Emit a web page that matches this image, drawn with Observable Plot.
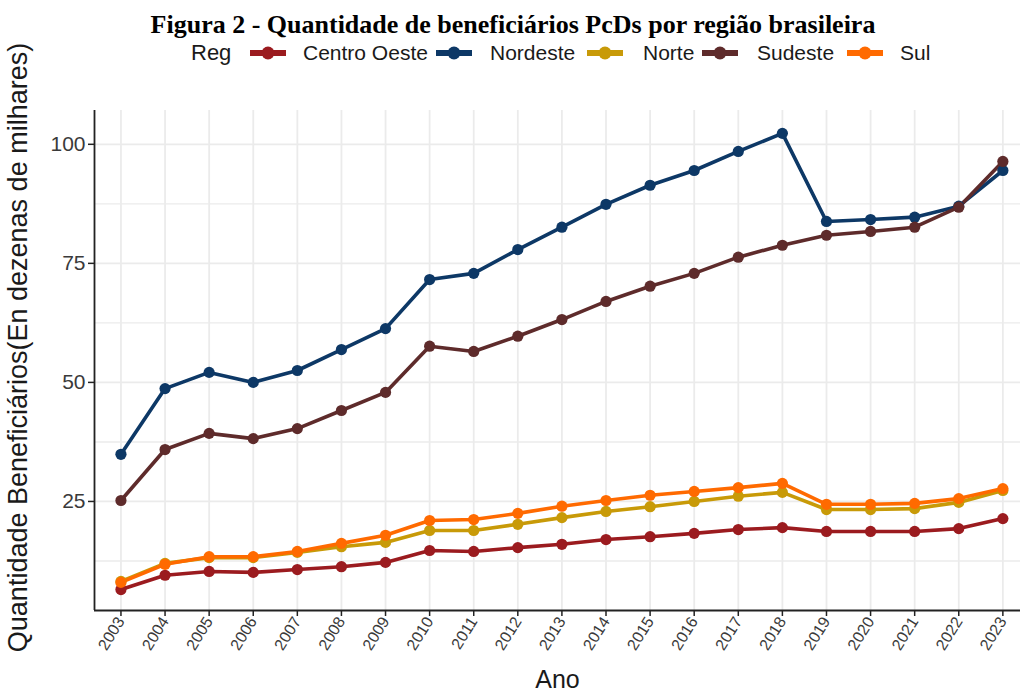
<!DOCTYPE html>
<html>
<head>
<meta charset="utf-8">
<script src="https://cdn.jsdelivr.net/npm/d3@7"></script>
<script src="https://cdn.jsdelivr.net/npm/@observablehq/plot@0.6"></script>
<style>
  body { margin: 0; background: #fff; width: 1020px; height: 695px; overflow: hidden; }
  #title { height: 40px; box-sizing: border-box; padding-top: 12px; text-align: center; font-family: "Liberation Serif", "Times New Roman", serif; font-weight: bold; font-size: 26px; line-height: 26px; color: #000; padding-left: 6px; }
  #legend { position: relative; height: 26px; font-family: "Liberation Sans", Arial, sans-serif; font-size: 21px; line-height: 26px; color: #1a1a1a; }
  #legend > * { position: absolute; top: 0; }
  #legend svg { top: 6px; }
  #chart svg { overflow: visible; display: block; }
</style>
</head>
<body>
<div id="title">Figura 2 - Quantidade de beneficiários PcDs por região brasileira</div>
<div id="legend"></div>
<div id="chart"></div>
<script>
const years = [2003,2004,2005,2006,2007,2008,2009,2010,2011,2012,2013,2014,2015,2016,2017,2018,2019,2020,2021,2022,2023];
const regions = ["Centro Oeste","Nordeste","Norte","Sudeste","Sul"];
const colors = ["#9b1b1f","#0d3866","#c89a08","#5e2b2b","#ff6a00"];
const centroOeste = [6.5,9.5,10.3,10.1,10.7,11.3,12.2,14.7,14.5,15.3,16.0,17.0,17.6,18.3,19.1,19.5,18.7,18.7,18.7,19.3,21.4];
const nordeste = [34.9,48.7,52.1,50.0,52.5,56.9,61.3,71.6,72.9,77.9,82.6,87.4,91.4,94.5,98.5,102.3,83.8,84.2,84.7,87.0,94.5];
const norte = [8.2,12.0,13.2,13.2,14.3,15.5,16.4,18.9,18.9,20.2,21.6,22.9,23.9,25.0,26.1,26.9,23.3,23.3,23.5,24.8,27.3];
const sudeste = [25.2,35.9,39.3,38.2,40.3,44.1,47.9,57.6,56.5,59.7,63.2,67.0,70.2,72.9,76.3,78.8,80.9,81.7,82.6,86.8,96.4];
const sul = [8.0,11.8,13.4,13.4,14.5,16.2,17.9,21.0,21.2,22.5,24.0,25.2,26.3,27.1,27.9,28.8,24.4,24.4,24.6,25.6,27.7];
const yTicks = [25,50,75,100];
const yMinor = [12.5,37.5,62.5,87.5];
const xDomain = [2002.4, 2023.4];
const yDomain = [2.1, 107.1];
const yLabel = "Quantidade Beneficiários(En dezenas de milhares)";
const xLabel = "Ano";
const legendTitle = "Reg";

const series = [centroOeste, nordeste, norte, sudeste, sul];
const data = [];
regions.forEach((r, i) => years.forEach((y, j) => data.push({reg: r, ano: y, val: series[i][j]})));

// legend (layout positions)
const leg = document.getElementById("legend");
const keyX = [250, 436, 587, 702, 847];
const textX = [303, 490, 643, 757, 900];
const t = document.createElement("span"); t.textContent = legendTitle; t.style.left = "191px"; t.style.fontSize = "22px"; leg.appendChild(t);
regions.forEach((r, i) => {
  const k = document.createElementNS("http://www.w3.org/2000/svg", "svg");
  k.setAttribute("width", 36); k.setAttribute("height", 14);
  k.style.left = keyX[i] + "px";
  k.innerHTML = `<line x1="0" x2="36" y1="7" y2="7" stroke="${colors[i]}" stroke-width="6"/><circle cx="18" cy="7" r="6.5" fill="${colors[i]}"/>`;
  leg.appendChild(k);
  const s = document.createElement("span"); s.textContent = r; s.style.left = textX[i] + "px";
  leg.appendChild(s);
});

const W = 1020, H = 629;
const plot = Plot.plot({
  width: W, height: H,
  marginLeft: 94, marginRight: 0, marginTop: 44, marginBottom: 85,
  x: {domain: xDomain, label: null},
  y: {domain: yDomain, label: null},
  color: {domain: regions, range: colors},
  style: {fontFamily: "Liberation Sans, Arial, sans-serif", background: "#fff"},
  marks: [
    Plot.ruleY(yMinor, {stroke: "#ebebeb", strokeWidth: 1.4}),
    Plot.ruleY(yTicks, {stroke: "#ebebeb", strokeWidth: 1.8}),
    Plot.ruleX(years, {stroke: "#ebebeb", strokeWidth: 1.8}),
    Plot.ruleX([xDomain[0]], {stroke: "#222", strokeWidth: 1.8}),
    Plot.ruleY([yDomain[0]], {stroke: "#222", strokeWidth: 1.8}),
    Plot.axisY(yTicks, {tickSize: 6, tickPadding: 3, fontSize: 21, color: "#3a3a3a", stroke: "#222", strokeWidth: 1.5, label: null}),
    Plot.axisX(years, {tickSize: 6, tickPadding: 2, tickRotate: -58, fontSize: 16, color: "#3a3a3a", stroke: "#222", strokeWidth: 1.5, tickFormat: d => String(d), label: null}),
    Plot.line(data, {x: "ano", y: "val", stroke: "reg", z: "reg", strokeWidth: 3.6}),
    Plot.dot(data, {x: "ano", y: "val", fill: "reg", r: 5.6}),
    Plot.text([yLabel], {frameAnchor: "left", textAnchor: "middle", rotate: -90, dx: -76, dy: -13, fontSize: 27, fill: "#1a1a1a"}),
    Plot.text([xLabel], {frameAnchor: "bottom", dy: 77, fontSize: 25, fill: "#1a1a1a"})
  ]
});
document.getElementById("chart").appendChild(plot);
</script>
</body>
</html>
